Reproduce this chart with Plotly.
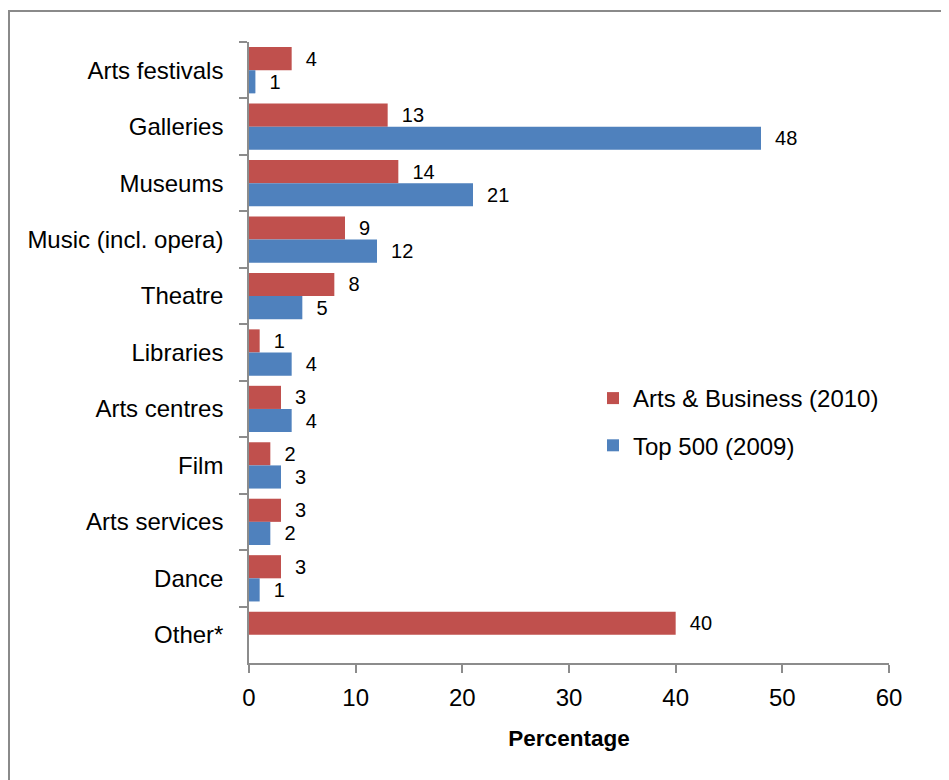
import plotly.graph_objects as go

categories = ["Arts festivals", "Galleries", "Museums", "Music (incl. opera)", "Theatre",
              "Libraries", "Arts centres", "Film", "Arts services", "Dance", "Other*"]
arts_business_2010 = [4, 13, 14, 9, 8, 1, 3, 2, 3, 3, 40]
top500_2009 = [0.6, 48, 21, 12, 5, 4, 4, 3, 2, 1, None]

RED = "#C0504D"
BLUE = "#4F81BD"
AXIS = "#8c8c8c"
FONT = "Liberation Sans, Arial, sans-serif"

OFF = 8  # default page body margin
W, H = 949 - OFF, 780 - OFF
L, R, T, B = 249 - OFF, 60, 42 - OFF, 117
pw, ph = W - L - R, H - T - B

def px_x(x):
    return (x - OFF - L) / pw

def px_y(y):
    return (H - B - (y - OFF)) / ph

fig = go.Figure()
fig.add_trace(go.Bar(
    y=categories, x=arts_business_2010, orientation="h", name="Arts & Business (2010)",
    marker=dict(color=RED, line=dict(width=0)),
    texttemplate="\u00a0\u00a0%{x:.0f}", textposition="outside", cliponaxis=False,
    constraintext="none",
    textfont=dict(family=FONT, size=20, color="#000000"),
    legendgroup="a", hoverinfo="x+y",
))
fig.add_trace(go.Bar(
    y=categories, x=top500_2009, orientation="h", name="Top 500 (2009)",
    marker=dict(color=BLUE, line=dict(width=0)),
    texttemplate="\u00a0\u00a0%{x:.0f}", textposition="outside", cliponaxis=False,
    constraintext="none",
    textfont=dict(family=FONT, size=20, color="#000000"),
    legendgroup="b", hoverinfo="x+y",
))

fig.update_layout(
    width=W, height=H,
    margin=dict(l=L, r=R, t=T, b=B, pad=0),
    paper_bgcolor="white", plot_bgcolor="white",
    barmode="group", bargap=0.18, bargroupgap=0,
    font=dict(family=FONT, size=24, color="#000000"),
    showlegend=True,
    legend=dict(
        x=px_x(593), y=px_y(376), xanchor="left", yanchor="top",
        font=dict(family=FONT, size=24, color="#000000"),
        traceorder="grouped", tracegroupgap=13, bgcolor="rgba(0,0,0,0)",
    ),
    xaxis=dict(
        range=[0, 60], tickvals=[0, 10, 20, 30, 40, 50, 60],
        showgrid=False, zeroline=False, showline=True, linecolor=AXIS, linewidth=1.5,
        ticks="outside", ticklen=8, tickwidth=1.5, tickcolor=AXIS,
        tickfont=dict(family=FONT, size=24, color="#000000"), ticklabelstandoff=4,
        title=dict(text="<b>Percentage</b>", font=dict(family=FONT, size=22.5, color="#000000"), standoff=21),
        fixedrange=True,
    ),
    yaxis=dict(
        type="category", autorange="reversed",
        showgrid=False, zeroline=False, showline=True, linecolor=AXIS, linewidth=1.5,
        ticks="outside", ticklen=8, tickwidth=1.5, tickcolor=AXIS, tickson="boundaries",
        tickfont=dict(family=FONT, size=24, color="#000000"), ticklabelstandoff=19,
        fixedrange=True,
    ),
    shapes=[dict(
        type="rect", xref="paper", yref="paper",
        x0=px_x(9), x1=px_x(949 + 20),
        y0=px_y(780 + 20), y1=px_y(11),
        line=dict(color="#8a8a8a", width=2), fillcolor="rgba(0,0,0,0)", layer="below",
    )],
)

fig.write_html("out.html")
